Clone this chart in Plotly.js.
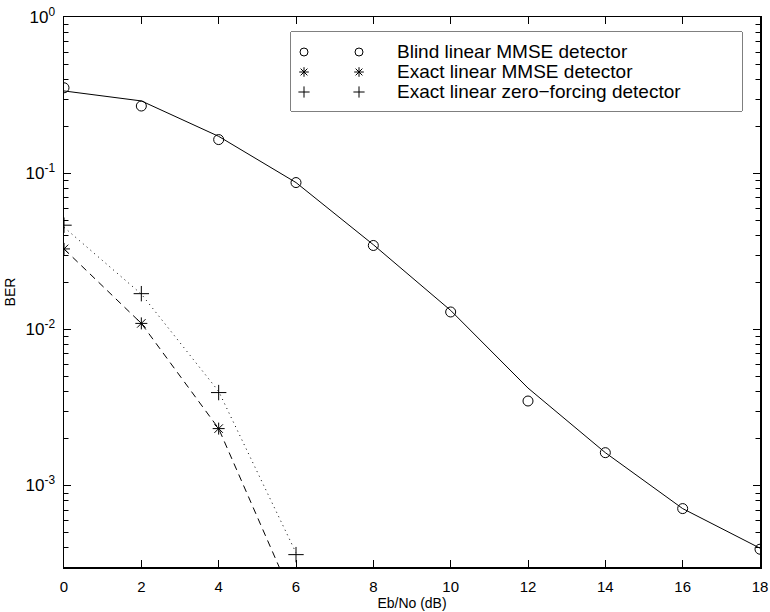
<!DOCTYPE html>
<html>
<head>
<meta charset="utf-8">
<script src="https://cdn.plot.ly/plotly-3.0.1.min.js"></script>
<style>html,body{margin:0;padding:0;background:#fff;}#chart{width:770px;height:612px;}</style>
</head>
<body>
<div id="chart"></div>
<script>
// Eb/No (dB) grid
var ebno = [0, 2, 4, 6, 8, 10, 12, 14, 16, 18];
// Blind linear MMSE detector: simulated points and fitted curve
var blindBER = [0.352, 0.269, 0.164, 0.087, 0.0344, 0.0129, 0.00347, 0.00162, 0.00071, 0.00039];
var blindFit = [0.336, 0.29, 0.172, 0.087, 0.0348, 0.0132, 0.0042, 0.00162, 0.00071, 0.000396];
// Exact linear MMSE detector
var mmseX = [0, 2, 4];
var mmseBER = [0.0327, 0.0109, 0.00231];
var mmseFitX = [0, 2, 4, 6];
var mmseFit = [0.0327, 0.0109, 0.00231, 0.00017];
// Exact linear zero-forcing detector
var zfX = [0, 2, 4, 6];
var zfBER = [0.0464, 0.0169, 0.00393, 0.00036];
var zfFit = [0.045, 0.0168, 0.0040, 0.00037];
// Axis ticks
var xTicks = [0, 2, 4, 6, 8, 10, 12, 14, 16, 18];
var yTickVals = [1, 0.1, 0.01, 0.001];
var yTickText = ['10<sup>0</sup>', '10<sup>-1</sup>', '10<sup>-2</sup>', '10<sup>-3</sup>'];
var seriesNames = ['Blind linear MMSE detector', 'Exact linear MMSE detector', 'Exact linear zero\u2212forcing detector'];
var seriesSymbols = ['circle-open', 'asterisk-open', 'cross-thin-open'];

var Y_MIN = 3e-4, Y_MAX = 1;
var yMinor = [];
[1e-4, 1e-3, 1e-2, 1e-1].forEach(function (d) {
  for (var k = 2; k <= 9; k++) yMinor.push(+(k * d).toPrecision(3));
});

var FONT = 'Liberation Sans, Arial, Helvetica, sans-serif';

// plot area in pixels
var PL = 64, PR = 760, PT = 17, PB = 567;
var PW = PR - PL, PH = PB - PT;
// legend box (pixels) and its rows
var LG = {x0: 291, x1: 742, y0: 32, y1: 111, rows: [52, 72, 92], m1: 304, m2: 359, tx: 395};
function px2paperX(p) { return (p - PL) / PW; }
function px2paperY(p) { return (PB - p) / PH; }

var mk = function (i, size) {
  return {symbol: seriesSymbols[i], size: size, color: '#000', line: {width: 1, color: '#000'}};
};

var traces = [
  {x: ebno, y: blindFit, mode: 'lines', line: {color: '#000', width: 1}, showlegend: false, hoverinfo: 'skip'},
  {x: mmseFitX, y: mmseFit, mode: 'lines', line: {color: '#000', width: 1, dash: '7px,5px'}, showlegend: false, hoverinfo: 'skip'},
  {x: zfX, y: zfFit, mode: 'lines', line: {color: '#000', width: 1, dash: '1px,4px'}, showlegend: false, hoverinfo: 'skip'},
  {x: ebno, y: blindBER, mode: 'markers', name: seriesNames[0], marker: mk(0, 10), showlegend: false},
  {x: mmseX, y: mmseBER, mode: 'markers', name: seriesNames[1], marker: mk(1, 10), showlegend: false},
  {x: zfX, y: zfBER, mode: 'markers', name: seriesNames[2], marker: mk(2, 11), showlegend: false}
];

// legend samples (MATLAB style: marker, gap, marker) on a hidden overlay axis in pixel units
seriesNames.forEach(function (n, i) {
  traces.push({x: [LG.m1, LG.m2], y: [LG.rows[i], LG.rows[i]], xaxis: 'x2', yaxis: 'y2',
    mode: 'markers', name: n, marker: mk(i, 8), showlegend: false, hoverinfo: 'skip'});
});

var annotations = seriesNames.map(function (n, i) {
  return {xref: 'x2', yref: 'y2', x: LG.tx, y: LG.rows[i], xanchor: 'left', yanchor: 'middle',
    text: n, showarrow: false, font: {family: FONT, size: 19, color: '#000'}};
});

var shapes = [{type: 'rect', xref: 'paper', yref: 'paper',
  x0: px2paperX(LG.x0), x1: px2paperX(LG.x1), y0: px2paperY(LG.y1), y1: px2paperY(LG.y0),
  line: {color: '#000', width: 1}, fillcolor: '#fff', layer: 'below'}];

// minor log ticks (inside, on both left and right frame edges)
var MINOR_LEN = 4.5 / PW;
var lmin = Math.log10(Y_MIN), lmax = Math.log10(Y_MAX);
yMinor.forEach(function (v) {
  if (v <= Y_MIN || v >= Y_MAX) return;
  var pix = Math.round(PB - (Math.log10(v) - lmin) / (lmax - lmin) * PH) + 0.5;
  var py = (PB - pix) / PH;
  shapes.push({type: 'line', xref: 'paper', yref: 'paper', x0: 0, x1: MINOR_LEN, y0: py, y1: py,
    line: {color: '#000', width: 1}, layer: 'above'});
  shapes.push({type: 'line', xref: 'paper', yref: 'paper', x0: 1 - MINOR_LEN, x1: 1, y0: py, y1: py,
    line: {color: '#000', width: 1}, layer: 'above'});
});

var layout = {
  width: 770, height: 612,
  margin: {l: PL, r: 770 - PR, t: PT, b: 612 - PB, pad: 0},
  paper_bgcolor: '#fff', plot_bgcolor: '#fff',
  font: {family: FONT, color: '#000', size: 14},
  showlegend: false,
  xaxis: {
    range: [0, 18], tickvals: xTicks, ticktext: xTicks.map(String),
    ticks: 'inside', ticklen: 7, tickwidth: 1, tickcolor: '#000',
    showline: true, linecolor: '#000', linewidth: 1.5, mirror: 'ticks',
    showgrid: false, zeroline: false,
    tickfont: {family: FONT, size: 15, color: '#000'},
    ticklabelstandoff: 5,
    title: {text: 'Eb/No (dB)', font: {family: FONT, size: 14, color: '#000'}, standoff: 4}
  },
  yaxis: {
    type: 'log', range: [lmin, lmax],
    tickvals: yTickVals, ticktext: yTickText,
    ticks: 'inside', ticklen: 7, tickwidth: 1, tickcolor: '#000',
    showline: true, linecolor: '#000', linewidth: 1.5, mirror: 'ticks',
    showgrid: false, zeroline: false,
    tickfont: {family: FONT, size: 17, color: '#000'},
    ticklabelstandoff: 4,
    title: {text: 'BER', font: {family: FONT, size: 14, color: '#000'}, standoff: 6}
  },
  xaxis2: {domain: [px2paperX(LG.x0), px2paperX(LG.x1)], range: [LG.x0, LG.x1], anchor: 'y2', visible: false, fixedrange: true},
  yaxis2: {domain: [px2paperY(LG.y1), px2paperY(LG.y0)], range: [LG.y1, LG.y0], anchor: 'x2', visible: false, fixedrange: true},
  shapes: shapes,
  annotations: annotations
};

Plotly.newPlot('chart', traces, layout, {staticPlot: true, displayModeBar: false});
</script>
</body>
</html>
